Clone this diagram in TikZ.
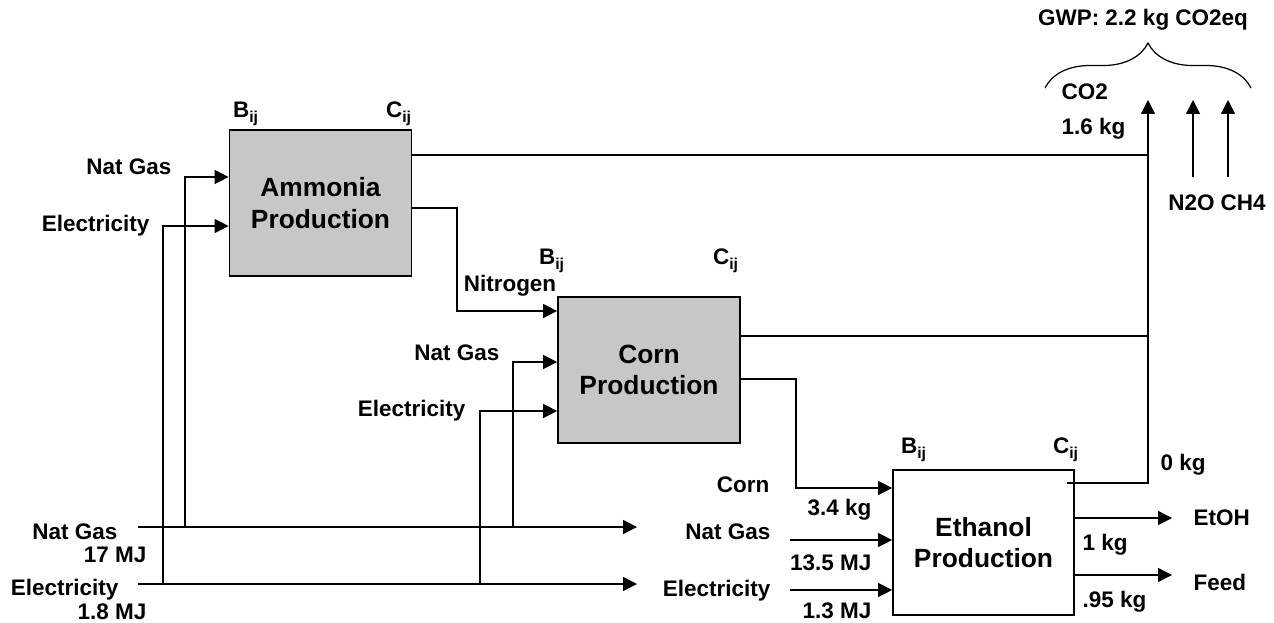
\documentclass[tikz,border=0pt]{standalone}
\usepackage{fontspec}
\setmainfont{Liberation Sans}
\usetikzlibrary{arrows.meta,decorations.pathreplacing}

\begin{document}
\begin{tikzpicture}[x=0.02cm,y=-0.02cm,>={Triangle[length=0.28cm,width=0.28cm]},line width=0.8pt,
  proc/.style={draw,line width=1pt,minimum width=3.64cm,minimum height=2.92cm,align=center,
    font=\fontsize{15}{18}\selectfont\bfseries},
  lbl/.style={inner sep=0pt,text height=9pt,text depth=0pt,font=\fontsize{12.8}{15}\selectfont\bfseries}]
  \useasboundingbox (0,0) rectangle (1274,622);
  \def\xs{1148}
  % process boxes
  \node[proc,fill=black!22] (amm) at (320.5,203) {Ammonia\\Production};
  \node[proc,fill=black!22] (corn) at (649,370) {Corn\\Production};
  \node[proc,minimum width=3.62cm,minimum height=2.9cm] (eth) at (983.5,542.5) {Ethanol\\Production};
  \foreach \b/\bx/\cx/\y in {amm/246/399/110,corn/552/726/257,eth/914/1066/446}{
    \node[lbl] (\b B) at (\bx,\y) {B\textsubscript{ij}};
    \node[lbl] (\b C) at (\cx,\y) {C\textsubscript{ij}};
  }
  % supply lines at the bottom
  \node[lbl,anchor=east] (ngsrc) at (118,532) {Nat Gas};
  \node[lbl,anchor=east] (ngamt) at (147,555) {17 MJ};
  \node[lbl,anchor=east] (elsrc) at (119,588) {Electricity};
  \node[lbl,anchor=east] (elamt) at (147,612) {1.8 MJ};
  \coordinate (ngbeg) at (138,527);
  \coordinate (elbeg) at (138,584);
  \coordinate (ngend) at (637,527);
  \coordinate (elend) at (637,584);
  \draw[->] (ngbeg) -- (ngend);
  \draw[->] (elbeg) -- (elend);
  % ammonia inputs
  \node[lbl,anchor=east] (ammng) at (172,167) {Nat Gas};
  \node[lbl,anchor=east] (ammel) at (150,224) {Electricity};
  \draw[->] (ngbeg -| 185,0) |- (amm.west |- 0,177);
  \draw[->] (elbeg -| 163,0) |- (amm.west |- 0,226);
  % corn inputs
  \node[lbl] (nitro) at (510,284) {Nitrogen};
  \node[lbl,anchor=east] (cornng) at (500,353) {Nat Gas};
  \node[lbl,anchor=east] (cornel) at (466,409) {Electricity};
  \draw[->] (amm.east |- 0,208) -| (457,311) -- (corn.west |- 0,311);
  \draw[->] (ngbeg -| 513,0) |- (corn.west |- 0,362);
  \draw[->] (elbeg -| 480,0) |- (corn.west |- 0,411);
  % ethanol inputs
  \node[lbl,anchor=east] (ethcorn) at (770,485) {Corn};
  \node[lbl,anchor=east] (ethng) at (771,532) {Nat Gas};
  \node[lbl,anchor=east] (ethel) at (771,589) {Electricity};
  \node[lbl,anchor=east] (cornamt) at (872,508) {3.4 kg};
  \node[lbl,anchor=east] (ethngamt) at (872,563) {13.5 MJ};
  \node[lbl,anchor=east] (ethelamt) at (872,611) {1.3 MJ};
  \draw[->] (corn.east |- 0,379) -| (796,488) -- (eth.west |- 0,488);
  \draw[->] (790,540) -- (eth.west |- 0,540);
  \draw[->] (790,590) -- (eth.west |- 0,590);
  % products
  \coordinate (etohend) at (1172,518);
  \coordinate (feedend) at (1172,575);
  \draw[->] (eth.east |- etohend) -- (etohend);
  \draw[->] (eth.east |- feedend) -- (feedend);
  \node[lbl,anchor=west] (etoh) at (1193,518) {EtOH};
  \node[lbl,anchor=west] (feed) at (1193,583) {Feed};
  \node[lbl,anchor=west] (etohamt) at (1082,543) {1 kg};
  \node[lbl,anchor=west] (feedamt) at (1082,600) {.95 kg};
  % emissions
  \coordinate (co2top) at (\xs,100);
  \draw (amm.east |- 0,155) -- (co2top |- 0,155);
  \draw (corn.east |- 0,336) -- (co2top |- 0,336);
  \draw[->] (1067,483) -| (co2top);
  \node[lbl,anchor=west] (zerokg) at (1160,463) {0 kg};
  \node[lbl,anchor=west] (co2) at (1061,92) {CO2};
  \node[lbl,anchor=west] (co2amt) at (1061,127) {1.6 kg};
  \coordinate (n2o) at (1193,100);
  \coordinate (ch4) at (1228,100);
  \draw[->] (n2o |- 0,177) -- (n2o);
  \draw[->] (ch4 |- 0,177) -- (ch4);
  \node[lbl] (others) at (1217,203) {N2O CH4};
  \draw[line width=0.7pt,decorate,decoration={brace,amplitude=0.9cm}] (1045,88) -- (1251,88);
  \node[lbl] (gwp) at (1143,18) {GWP: 2.2 kg CO2eq};
\end{tikzpicture}
\end{document}
